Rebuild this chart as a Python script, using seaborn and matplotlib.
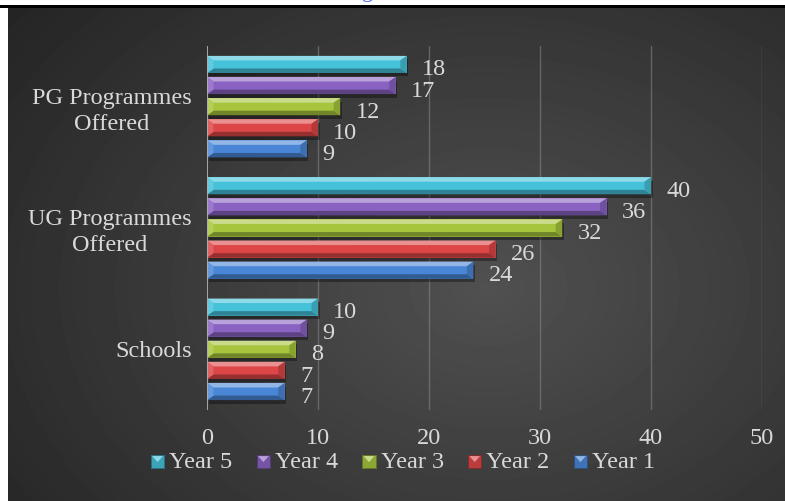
import numpy as np
import pandas as pd
import matplotlib
matplotlib.use("Agg")
import matplotlib.pyplot as plt
import matplotlib.colors as mcolors
from matplotlib.patches import Polygon, Rectangle
from matplotlib.legend_handler import HandlerBase
import seaborn as sns

# ---- data -------------------------------------------------------------
categories = ["PG Programmes\nOffered", "UG Programmes\nOffered", "Schools"]
years = ["Year 5", "Year 4", "Year 3", "Year 2", "Year 1"]
year5 = [18, 40, 10]
year4 = [17, 36, 9]
year3 = [12, 32, 8]
year2 = [10, 26, 7]
year1 = [9, 24, 7]
x_ticks = [0, 10, 20, 30, 40, 50]

series = dict(zip(years, [year5, year4, year3, year2, year1]))
palette = {
    "Year 5": "#45c1d9",
    "Year 4": "#8a62c2",
    "Year 3": "#a6c53d",
    "Year 2": "#dc4646",
    "Year 1": "#4a86d6",
}

df = pd.DataFrame(
    [{"category": c, "year": yr, "value": v}
     for yr, vals in series.items() for c, v in zip(categories, vals)]
)

# ---- style ------------------------------------------------------------
sns.set_style("dark")
plt.rcParams["font.family"] = ["Liberation Serif", "DejaVu Serif"]
TEXT = "#d9d9d9"
FS = 17.5

W, H, DPI = 785, 501, 100
fig = plt.figure(figsize=(W / DPI, H / DPI), dpi=DPI, facecolor="white")

# dark radial backdrop
bg = fig.add_axes([8 / W, 0, (W - 8) / W, (H - 8) / H], zorder=0)
yy, xx = np.mgrid[0:H - 8, 0:W - 8]
r = np.sqrt(((xx - 480) / 520.0) ** 2 + ((yy - 280) / 380.0) ** 2)
shade = np.clip(0.315 - 0.145 * r, 0.14, 0.32)
bg.imshow(shade, cmap="gray", vmin=0, vmax=1, aspect="auto",
          interpolation="bilinear")
bg.axis("off")

# black rule along the top
fig.add_artist(Rectangle((0, (H - 8) / H), 1, 3 / H, transform=fig.transFigure,
                         facecolor="black", edgecolor="none", zorder=5))
# clipped heading
fig.text(368 / W, 1 + 3 / H, "g", color="#4a5cff", fontsize=16,
         ha="center", va="baseline", zorder=6)

# ---- bars -------------------------------------------------------------
ax = fig.add_axes([207 / W, 1 - 410 / H, (762 - 207) / W, (410 - 46) / H], zorder=2)
ax.patch.set_alpha(0)

sns.barplot(data=df, x="value", y="category", hue="year", order=categories,
            hue_order=years, palette=palette, orient="h", width=0.87, gap=0.19,
            saturation=1, edgecolor="none", legend=False, ax=ax)

ax.set_xlim(0, 50)
ax.set_ylim(2.5, -0.5)
ax.set_xticks(x_ticks)
ax.set_xlabel("")
ax.set_ylabel("")
for s in ax.spines.values():
    s.set_visible(False)
ax.grid(False)
for xv in x_ticks[1:]:
    ax.axvline(xv, color="#8a8a8a", lw=1, alpha=0.55, zorder=0.5)
ax.axvline(0, color="#b0b0b0", lw=1.3, zorder=4)

ax.tick_params(axis="x", colors=TEXT, labelsize=FS, length=0, pad=13)
ax.tick_params(axis="y", colors=TEXT, labelsize=FS, length=0, pad=11)
for t in ax.get_yticklabels():
    t.set_multialignment("center")
    t.set_linespacing(1.3)

# bevelled faces on every bar
pos = ax.get_position()
ppx = pos.width * W / 50.0
ppy = pos.height * H / 3.0
bx, by = 6.5 / ppx, 4.5 / ppy
sx, sy = 1.5 / ppx, 3.5 / ppy


def mix(c, other, t):
    c = np.array(mcolors.to_rgb(c))
    o = np.array(mcolors.to_rgb(other))
    return tuple(c * (1 - t) + o * t)


for cont, yr in zip(ax.containers, years):
    base = palette[yr]
    top_c = mix(base, "white", 0.4)
    bot_c = mix(base, "black", 0.32)
    end_c = mix(base, "black", 0.18)
    left_c = mix(base, "white", 0.15)
    for bar in cont:
        x0, w = bar.get_x(), bar.get_width()
        y0, h = bar.get_y(), bar.get_height()
        x1, y1 = x0 + w, y0 + h
        # soft drop shadow
        ax.add_patch(Rectangle((x0 + sx, y0 + sy), w, h, facecolor="black",
                               alpha=0.35, edgecolor="none", zorder=1))
        bar.set_zorder(2)
        kw = dict(edgecolor="none", zorder=3)
        ax.add_patch(Polygon([(x0, y0), (x1, y0), (x1 - bx, y0 + by),
                              (x0 + bx, y0 + by)], facecolor=top_c, **kw))
        ax.add_patch(Polygon([(x0, y1), (x1, y1), (x1 - bx, y1 - by),
                              (x0 + bx, y1 - by)], facecolor=bot_c, **kw))
        ax.add_patch(Polygon([(x1, y0), (x1, y1), (x1 - bx, y1 - by),
                              (x1 - bx, y0 + by)], facecolor=end_c, **kw))
        ax.add_patch(Polygon([(x0, y0), (x0, y1), (x0 + bx, y1 - by),
                              (x0 + bx, y0 + by)], facecolor=left_c, **kw))
    labels = ax.bar_label(cont, padding=12, color=TEXT, fontsize=FS)
    for lab in labels:
        lab.xyann = (11, -4)
        lab.set_va("center")


# ---- legend -----------------------------------------------------------
class BevelSquare(HandlerBase):
    def create_artists(self, legend, orig, xd, yd, width, height, fontsize, trans):
        base = orig.get_facecolor()
        s = min(width, height) * 1.0
        x0 = xd + (width - s) / 2
        y0 = yd + (height - s) / 2
        sq = Rectangle((x0, y0), s, s, facecolor=mix(base, "black", 0.15),
                       edgecolor=mix(base, "black", 0.4), lw=0.6, transform=trans)
        tri = Polygon([(x0 + s * 0.1, y0 + s * 0.9), (x0 + s * 0.9, y0 + s * 0.9),
                       (x0 + s * 0.5, y0 + s * 0.45)],
                      facecolor=mix(base, "white", 0.4), edgecolor="none",
                      transform=trans)
        return [sq, tri]


handles = [Rectangle((0, 0), 1, 1, facecolor=palette[yr]) for yr in years]
fig.legend(handles, years, loc="center", bbox_to_anchor=(403 / W, 1 - 462 / H),
           ncol=5, frameon=False, fontsize=FS, labelcolor=TEXT,
           handler_map={Rectangle: BevelSquare()}, handlelength=0.55,
           handleheight=0.55, handletextpad=0.2, columnspacing=1.0)

fig.savefig("out.png", dpi=DPI, facecolor="white")
